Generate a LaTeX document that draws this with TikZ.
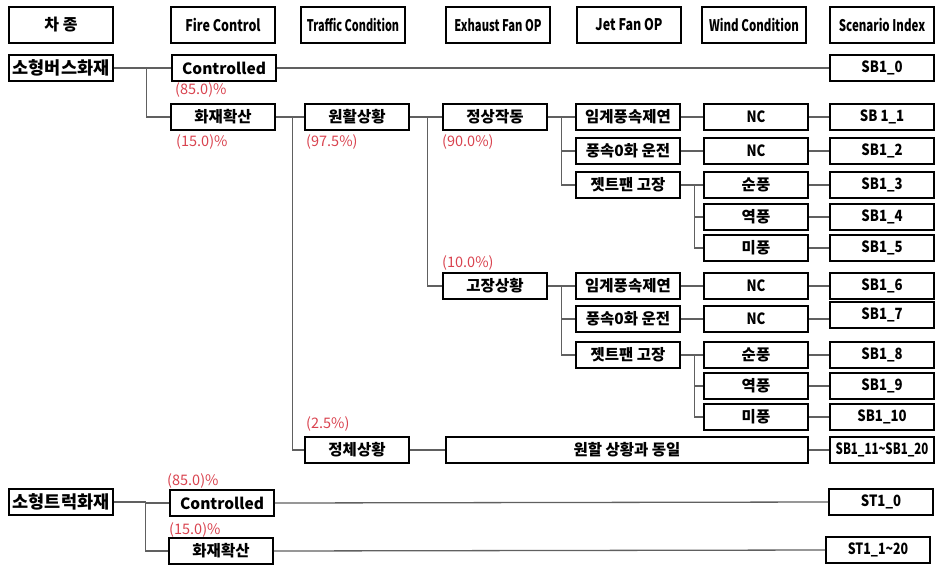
\documentclass[tikz,border=0pt]{standalone}
\usepackage{fontspec}
\setmainfont{Noto Sans CJK KR}
\usetikzlibrary{positioning}
\definecolor{pct}{HTML}{D9434F}
\definecolor{lnc}{HTML}{606060}
\tikzset{
  box/.style={draw=black, line width=1.6pt, minimum width=104pt, minimum height=26pt, inner sep=0pt, font=\fontsize{15.5}{17}\selectfont\bfseries},
  idx/.style={box, font=\fontsize{15.5}{17}\selectfont\bfseries},
  hdr/.style={draw=black, line width=1.6pt, minimum width=104pt, minimum height=36pt, inner sep=0pt, font=\fontsize{16}{18}\selectfont\bfseries},
  pctlab/.style={anchor=west, text=pct, inner sep=0pt, font=\fontsize{14.5}{16}\selectfont},
  ln/.style={draw=lnc, line width=1.3pt},
}
\newcommand{\sx}[2]{\scalebox{#1}[1]{#2}}
\begin{document}
\begin{tikzpicture}[x=1pt,y=-1pt]
\useasboundingbox (0,0) rectangle (938,566);
% headers
\node[hdr] (h0) at (61,25) {차 종};
\node[hdr] (h1) at (223,25) {\sx{0.78}{Fire Control}};
\node[hdr] (h2) at (353,25) {\sx{0.68}{Traffic Condition}};
\node[hdr] (h3) at (498,25) {\sx{0.7}{Exhaust Fan OP}};
\node[hdr] (h4) at (629,25) {\sx{0.78}{Jet Fan OP}};
\node[hdr] (h5) at (754,25) {\sx{0.72}{Wind Condition}};
\node[hdr] (h6) at (882,25) {\sx{0.72}{Scenario Index}};
% bus branch
\node[box, font=\fontsize{17.5}{19}\selectfont\bfseries] (bus) at (61,68) {소형버스화재};
\node[box] (ctl) at (224,68) {Controlled};
\node[idx] (sb0) at (882,68) {\sx{0.85}{SB1\_0}};
\node[box] (spr) at (223,117) {화재확산};
\node[box] (smooth) at (357,117) {원활상황};
\node[box] (norm) at (495,117) {정상작동};
\node[box] (j1) at (628,117) {임계풍속제연};
\node[box] (w1) at (756,117) {\sx{0.85}{NC}};
\node[idx] (sb1) at (882,117) {\sx{0.85}{SB 1\_1}};
\node[box] (j2) at (628,151) {풍속0화 운전};
\node[box] (w2) at (756,151) {\sx{0.85}{NC}};
\node[idx] (sb2) at (882,151) {\sx{0.85}{SB1\_2}};
\node[box] (j3) at (628,185) {젯트팬 고장};
\node[box] (w3) at (756,185) {순풍};
\node[idx] (sb3) at (882,185) {\sx{0.85}{SB1\_3}};
\node[box] (w4) at (756,217) {역풍};
\node[idx] (sb4) at (882,217) {\sx{0.85}{SB1\_4}};
\node[box] (w5) at (756,248) {미풍};
\node[idx] (sb5) at (882,248) {\sx{0.85}{SB1\_5}};
\node[box] (fail) at (495,286) {고장상황};
\node[box] (j6) at (628,286) {임계풍속제연};
\node[box] (w6) at (756,286) {\sx{0.85}{NC}};
\node[idx] (sb6) at (882,286) {\sx{0.85}{SB1\_6}};
\node[box] (j7) at (628,319) {풍속0화 운전};
\node[box] (w7) at (756,319) {\sx{0.85}{NC}};
\node[idx] (sb7) at (882,315) {\sx{0.85}{SB1\_7}};
\node[box] (j8) at (628,355) {젯트팬 고장};
\node[box] (w8) at (756,355) {순풍};
\node[idx] (sb8) at (882,355) {\sx{0.85}{SB1\_8}};
\node[box] (w9) at (756,386) {역풍};
\node[idx] (sb9) at (882,386) {\sx{0.85}{SB1\_9}};
\node[box] (w10) at (756,417) {미풍};
\node[idx] (sb10) at (882,417) {\sx{0.85}{SB1\_10}};
\node[box] (jam) at (357,450) {정체상황};
\node[box, minimum width=362pt] (same) at (627,450) {원할 상황과 동일};
\node[idx] (sb11) at (882,450) {\sx{0.74}{SB1\_11\textasciitilde SB1\_20}};
% truck branch
\node[box, font=\fontsize{17.5}{19}\selectfont\bfseries] (truck) at (61,502) {소형트럭화재};
\node[box] (tctl) at (222,503) {Controlled};
\node[idx] (st0) at (881,502) {\sx{0.85}{ST1\_0}};
\node[box] (tspr) at (221,551) {화재확산};
\node[idx] (st1) at (878,550) {\sx{0.8}{ST1\_1\textasciitilde 20}};
% percentages
\node[pctlab] (p1) at (175,90) {(85.0)\%};
\node[pctlab] (p2) at (176,142) {(15.0)\%};
\node[pctlab] (p3) at (306,142) {(97.5\%)};
\node[pctlab] (p4) at (442,142) {(90.0\%)};
\node[pctlab] (p5) at (442,263) {(10.0\%)};
\node[pctlab] (p6) at (306,424) {(2.5\%)};
\node[pctlab] (p7) at (167,481) {(85.0)\%};
\node[pctlab] (p8) at (169,530) {(15.0)\%};
% connectors
\draw[ln] (bus.east) -- ++(33,0) |- (ctl.west);
\draw[ln] (bus.east) -- ++(33,0) |- (spr.west);
\draw[ln] (ctl.east) -- (sb0.west);
\draw[ln] (spr.east) -- ++(17,0) |- (smooth.west);
\draw[ln] (spr.east) -- ++(17,0) |- (jam.west);
\draw[ln] (smooth.east) -- ++(18,0) |- (norm.west);
\draw[ln] (smooth.east) -- ++(18,0) |- (fail.west);
\draw[ln] (norm.east) -- ++(14,0) |- (j1.west);
\draw[ln] (norm.east) -- ++(14,0) |- (j2.west);
\draw[ln] (norm.east) -- ++(14,0) |- (j3.west);
\draw[ln] (fail.east) -- ++(14,0) |- (j6.west);
\draw[ln] (fail.east) -- ++(14,0) |- (j7.west);
\draw[ln] (fail.east) -- ++(14,0) |- (j8.west);
\draw[ln] (j1.east) -- (w1.west);
\draw[ln] (j2.east) -- (w2.west);
\draw[ln] (j6.east) -- (w6.west);
\draw[ln] (j7.east) -- (w7.west);
\draw[ln] (j3.east) -- ++(14,0) |- (w3.west);
\draw[ln] (j3.east) -- ++(14,0) |- (w4.west);
\draw[ln] (j3.east) -- ++(14,0) |- (w5.west);
\draw[ln] (j8.east) -- ++(14,0) |- (w8.west);
\draw[ln] (j8.east) -- ++(14,0) |- (w9.west);
\draw[ln] (j8.east) -- ++(14,0) |- (w10.west);
\draw[ln] (w1.east) -- (sb1.west);
\draw[ln] (w2.east) -- (sb2.west);
\draw[ln] (w3.east) -- (sb3.west);
\draw[ln] (w4.east) -- (sb4.west);
\draw[ln] (w5.east) -- (sb5.west);
\draw[ln] (w6.east) -- (sb6.west);
\draw[ln] (w7.east) -- (sb7.west |- w7.east);
\draw[ln] (w8.east) -- (sb8.west);
\draw[ln] (w9.east) -- (sb9.west);
\draw[ln] (w10.east) -- (sb10.west);
\draw[ln] (jam.east) -- (same.west);
\draw[ln] (same.east) -- (sb11.west);
\draw[ln] (truck.east) -- ++(32,0) |- (tctl.west);
\draw[ln] (truck.east) -- ++(32,0) |- (tspr.west);
\draw[ln] (tctl.east) -- (st0.west);
\draw[ln] (tspr.east) -- (st1.west);
\end{tikzpicture}
\end{document}
